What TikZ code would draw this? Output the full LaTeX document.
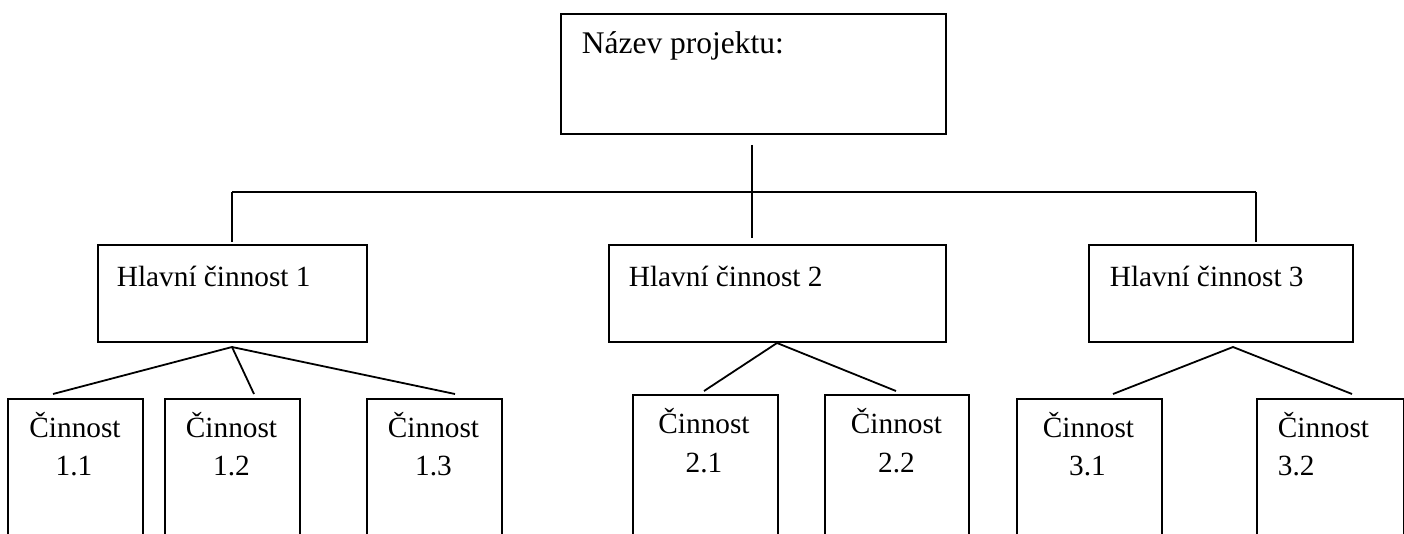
\documentclass[tikz,border=0pt]{standalone}
\usepackage{fontspec}
\setmainfont{Liberation Serif}
\begin{document}
\begin{tikzpicture}[x=1pt,y=-1pt,line width=1.8pt,
  box/.style={draw,rectangle,inner sep=0pt,anchor=north west},
  mainbox/.style={box,minimum height=97pt},
  subbox/.style={box,minimum height=220pt},
  lbl/.style={inner sep=0pt,font=\fontsize{29.3}{35}\selectfont},
  toplbl/.style={inner sep=0pt,font=\fontsize{31.5}{38}\selectfont}]
\clip (0,0) rectangle (1404,533);
% boxes
\node[box,minimum width=385pt,minimum height=120pt] (top) at (560,13) {};
\node[mainbox,minimum width=269pt] (h1) at (97,244) {};
\node[mainbox,minimum width=337pt] (h2) at (608,244) {};
\node[mainbox,minimum width=264pt] (h3) at (1088,244) {};
\node[subbox,minimum width=135pt] (c11) at (7,398) {};
\node[subbox,minimum width=135pt] (c12) at (164,398) {};
\node[subbox,minimum width=135pt] (c13) at (366,398) {};
\node[subbox,minimum width=145pt] (c21) at (632,394) {};
\node[subbox,minimum width=144pt] (c22) at (824,394) {};
\node[subbox,minimum width=145pt] (c31) at (1016,398) {};
\node[subbox,minimum width=147pt] (c32) at (1256,398) {};
% texts
\node[toplbl,anchor=base west] (ttop) at (581,53) {Název projektu:};
\node[lbl,anchor=base west] (th1) at (116,286) {Hlavní činnost 1};
\node[lbl,anchor=base west] (th2) at (628,286) {Hlavní činnost 2};
\node[lbl,anchor=base west] (th3) at (1109,286) {Hlavní činnost 3};
\node[lbl,anchor=base] (t11a) at (75,437) {Činnost};
\node[lbl,anchor=base] (t11b) at (74,475) {1.1};
\node[lbl,anchor=base] (t12a) at (231.5,437) {Činnost};
\node[lbl,anchor=base] (t12b) at (231.5,475) {1.2};
\node[lbl,anchor=base] (t13a) at (433.5,437) {Činnost};
\node[lbl,anchor=base] (t13b) at (433.5,475) {1.3};
\node[lbl,anchor=base] (t21a) at (704,433) {Činnost};
\node[lbl,anchor=base] (t21b) at (704,472) {2.1};
\node[lbl,anchor=base] (t22a) at (896.5,433) {Činnost};
\node[lbl,anchor=base] (t22b) at (896.5,472) {2.2};
\node[lbl,anchor=base] (t31a) at (1088.5,437) {Činnost};
\node[lbl,anchor=base] (t31b) at (1087.5,475) {3.1};
\node[lbl,anchor=base west] (t32a) at (1277,437) {Činnost};
\node[lbl,anchor=base west] (t32b) at (1277,475) {3.2};
% connectors: top level
\coordinate (bus) at (752,192);
\coordinate (bl) at (232,192);
\coordinate (br) at (1256,192);
\draw ([yshift=-10pt]top.south -| bus) -- (bus);
\draw (bl) -- (br);
\draw[shorten >=2pt] (bl) -- (bl |- h1.north);
\draw[shorten >=6pt] (bus) -- (bus |- h2.north);
\draw[shorten >=2pt] (br) -- (br |- h3.north);
% connectors: second level
\coordinate (a1) at (232,347);
\coordinate (e11) at (53,394);
\coordinate (e12) at (254,394);
\coordinate (e13) at (455,394);
\draw (e11) -- (a1) -- (e13);
\draw (a1) -- (e12);
\coordinate (a2) at (777,343);
\coordinate (e21) at (704,391);
\coordinate (e22) at (896,391);
\draw (e21) -- (a2) -- (e22);
\coordinate (a3) at (1233,347);
\coordinate (e31) at (1113,394);
\coordinate (e32) at (1352,394);
\draw (e31) -- (a3) -- (e32);
\end{tikzpicture}
\end{document}
